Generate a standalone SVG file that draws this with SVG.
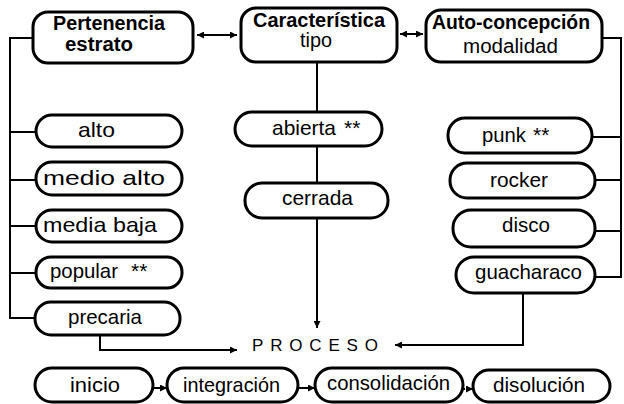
<svg xmlns="http://www.w3.org/2000/svg" width="624" height="404" viewBox="0 0 624 404">
<defs>
<marker id="ah" viewBox="0 0 10 10" refX="10" refY="5" markerWidth="8" markerHeight="7" markerUnits="userSpaceOnUse" orient="auto-start-reverse">
<path d="M0,0 L10,5 L0,10 z" fill="#000"/>
</marker>
<style>
.box{fill:#fff;stroke:#000;stroke-width:3}
.t{font-family:"Liberation Sans",Arial,sans-serif;font-size:21px;fill:#000}
.h{font-family:"Liberation Sans",Arial,sans-serif;font-size:20px;font-weight:bold;fill:#000}
.s{font-family:"Liberation Sans",Arial,sans-serif;font-size:20px;fill:#000}
.c{fill:none;stroke:#000;stroke-width:2}
.p{font-family:"Liberation Sans",Arial,sans-serif;font-size:17px;fill:#000}
</style>
</defs>
<rect width="624" height="404" fill="#fff"/>
<g id="connectors">
<line class="c" x1="197" y1="35" x2="237" y2="35" marker-start="url(#ah)" marker-end="url(#ah)"/>
<line class="c" x1="400" y1="34" x2="423" y2="34" marker-start="url(#ah)" marker-end="url(#ah)"/>
<polyline class="c" points="33,38 10,38 10,318 36,318"/>
<line class="c" x1="10" y1="132" x2="37" y2="132"/>
<line class="c" x1="10" y1="180" x2="37" y2="180"/>
<line class="c" x1="10" y1="226" x2="37" y2="226"/>
<line class="c" x1="10" y1="273" x2="37" y2="273"/>
<polyline class="c" points="602,38 621,38 621,277 595,277"/>
<line class="c" x1="592" y1="137" x2="621" y2="137"/>
<line class="c" x1="595" y1="180" x2="621" y2="180"/>
<line class="c" x1="595" y1="231" x2="621" y2="231"/>
<line class="c" x1="317" y1="62" x2="317" y2="112"/>
<line class="c" x1="317" y1="146" x2="317" y2="183"/>
<line class="c" x1="317" y1="218" x2="317" y2="328" marker-end="url(#ah)"/>
<polyline class="c" points="100,335 100,350 237,350" marker-end="url(#ah)"/>
<polyline class="c" points="523,293 523,345 395,345" marker-end="url(#ah)"/>
<line class="c" x1="153" y1="388" x2="167" y2="388" marker-end="url(#ah)"/>
<line class="c" x1="298" y1="388" x2="315" y2="388" marker-end="url(#ah)"/>
<line class="c" x1="463" y1="389" x2="473" y2="389" stroke-dasharray="2,2" marker-end="url(#ah)"/>
</g>
<g id="pertenencia"><rect class="box" x="33" y="12" width="160" height="51" rx="15"/><text class="h" x="53" y="30" textLength="112" lengthAdjust="spacingAndGlyphs">Pertenencia</text><text class="h" x="65" y="51" textLength="68" lengthAdjust="spacingAndGlyphs">estrato</text></g>
<g id="caracteristica"><rect class="box" x="241" y="8" width="156" height="54" rx="15"/><text class="h" x="253" y="27" textLength="132" lengthAdjust="spacingAndGlyphs">Característica</text><text class="s" x="300" y="47" textLength="32" lengthAdjust="spacingAndGlyphs">tipo</text></g>
<g id="autoconcepcion"><rect class="box" x="426" y="10" width="176" height="52" rx="15"/><text class="h" x="432" y="29" textLength="158" lengthAdjust="spacingAndGlyphs">Auto-concepción</text><text class="s" x="463" y="53" textLength="95" lengthAdjust="spacingAndGlyphs">modalidad</text></g>
<g id="alto"><rect class="box" x="36" y="115" width="146" height="32" rx="16"/><text class="t" x="78" y="137" textLength="37" lengthAdjust="spacingAndGlyphs">alto</text></g>
<g id="medioalto"><rect class="box" x="36" y="162" width="146" height="33" rx="16"/><text class="t" x="43" y="185" textLength="122" lengthAdjust="spacingAndGlyphs">medio alto</text></g>
<g id="mediabaja"><rect class="box" x="36" y="210" width="146" height="32" rx="16"/><text class="t" x="43" y="232" textLength="114" lengthAdjust="spacingAndGlyphs">media baja</text></g>
<g id="popular"><rect class="box" x="36" y="257" width="146" height="31" rx="15"/><text class="t" x="50" y="278"><tspan textLength="68" lengthAdjust="spacingAndGlyphs">popular</tspan><tspan x="131">**</tspan></text></g>
<g id="precaria"><rect class="box" x="35" y="302" width="145" height="33" rx="16"/><text class="t" x="68" y="324" textLength="74" lengthAdjust="spacingAndGlyphs">precaria</text></g>
<g id="abierta"><rect class="box" x="235" y="112" width="147" height="34" rx="17"/><text class="t" x="272" y="135"><tspan textLength="64" lengthAdjust="spacingAndGlyphs">abierta</tspan><tspan x="344">**</tspan></text></g>
<g id="cerrada"><rect class="box" x="245" y="183" width="143" height="35" rx="17"/><text class="t" x="282" y="205" textLength="71" lengthAdjust="spacingAndGlyphs">cerrada</text></g>
<g id="punk"><rect class="box" x="448" y="118" width="144" height="35" rx="17"/><text class="t" x="482" y="142"><tspan textLength="44" lengthAdjust="spacingAndGlyphs">punk</tspan><tspan x="533">**</tspan></text></g>
<g id="rocker"><rect class="box" x="450" y="163" width="145" height="35" rx="17"/><text class="t" x="490" y="187" textLength="58" lengthAdjust="spacingAndGlyphs">rocker</text></g>
<g id="disco"><rect class="box" x="453" y="210" width="142" height="37" rx="18"/><text class="t" x="502" y="232" textLength="48" lengthAdjust="spacingAndGlyphs">disco</text></g>
<g id="guacharaco"><rect class="box" x="456" y="257" width="139" height="36" rx="18"/><text class="t" x="475" y="279" textLength="107" lengthAdjust="spacingAndGlyphs">guacharaco</text></g>
<g id="proceso"><text class="p" x="252" y="351" textLength="126" lengthAdjust="spacing">PROCESO</text></g>
<g id="inicio"><rect class="box" x="35" y="368" width="118" height="34" rx="17"/><text class="t" x="70" y="392" textLength="50" lengthAdjust="spacingAndGlyphs">inicio</text></g>
<g id="integracion"><rect class="box" x="167" y="368" width="131" height="34" rx="17"/><text class="t" x="183" y="392" textLength="97" lengthAdjust="spacingAndGlyphs">integración</text></g>
<g id="consolidacion"><rect class="box" x="315" y="368" width="148" height="34" rx="17"/><text class="t" x="327" y="390" textLength="123" lengthAdjust="spacingAndGlyphs">consolidación</text></g>
<g id="disolucion"><rect class="box" x="473" y="370" width="137" height="32" rx="16"/><text class="t" x="493" y="392" textLength="92" lengthAdjust="spacingAndGlyphs">disolución</text></g>
</svg>
